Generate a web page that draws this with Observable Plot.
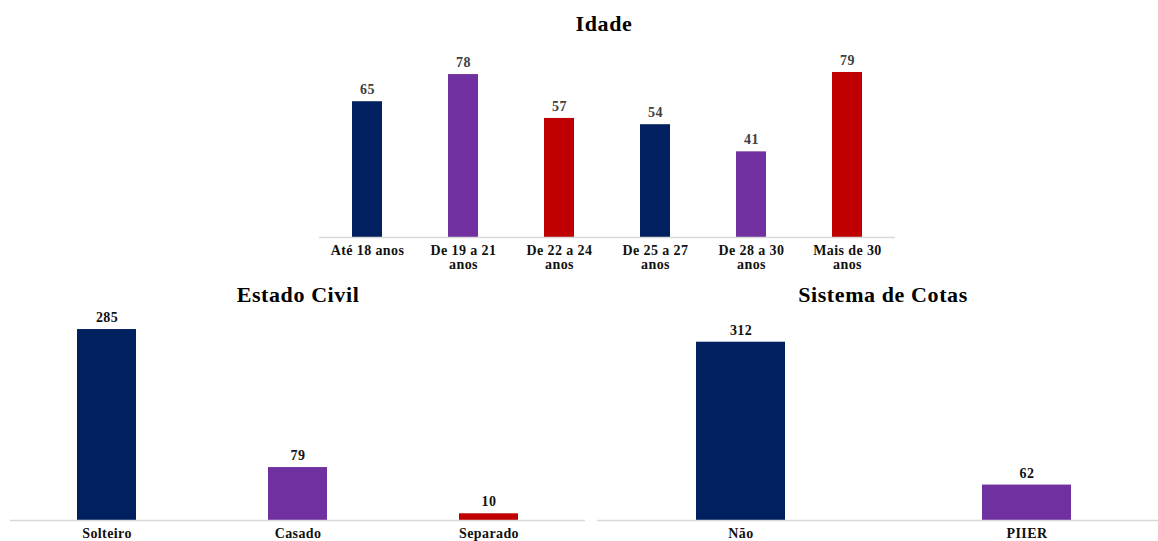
<!DOCTYPE html>
<html>
<head>
<meta charset="utf-8">
<script src="https://cdn.jsdelivr.net/npm/d3@7"></script>
<script src="https://cdn.jsdelivr.net/npm/@observablehq/plot@0.6"></script>
<style>
  html, body { margin: 0; padding: 0; background: #fff; overflow: hidden; }
  #page { position: relative; width: 1158px; height: 541px; font-family: "Liberation Serif", "Times New Roman", serif; }
  .title { position: absolute; font-weight: bold; font-size: 22px; line-height: 1; letter-spacing: 0.6px; color: #000; transform: translate(-50%, -50%); white-space: nowrap; }
  .chart { position: absolute; }
</style>
</head>
<body>
<div id="page"></div>
<script>
// Faixa etária
const idadeCategorias = ["Até 18 anos", "De 19 a 21 anos", "De 22 a 24 anos", "De 25 a 27 anos", "De 28 a 30 anos", "Mais de 30 anos"];
const idadeRotulos = ["Até 18 anos", "De 19 a 21\nanos", "De 22 a 24\nanos", "De 25 a 27\nanos", "De 28 a 30\nanos", "Mais de 30\nanos"];
const idadeValores = [65, 78, 57, 54, 41, 79];

// Estado civil
const estadoCategorias = ["Solteiro", "Casado", "Separado"];
const estadoValores = [285, 79, 10];

// Sistema de cotas
const cotasCategorias = ["Não", "PIIER"];
const cotasValores = [312, 62];

const paleta = ["#002060", "#7030A0", "#C00000"];

const page = document.getElementById("page");

function addTitle(text, cx, cy) {
  const el = document.createElement("div");
  el.className = "title";
  el.textContent = text;
  el.style.left = cx + "px";
  el.style.top = cy + "px";
  page.appendChild(el);
}

function addBars({categorias, rotulos, valores, yMax, left, top, width, height, margin, tickPadding, valueColor}) {
  const rows = categorias.map((c, i) => ({categoria: c, rotulo: rotulos[i], valor: valores[i], cor: paleta[i % paleta.length]}));
  const chart = Plot.plot({
    width, height,
    marginTop: margin[0], marginRight: margin[1], marginBottom: margin[2], marginLeft: margin[3],
    style: {
      fontFamily: "'Liberation Serif', 'Times New Roman', serif",
      fontSize: "14px",
      fontWeight: "bold",
      letterSpacing: "0.4px",
      color: "#111",
      background: "transparent",
      overflow: "visible"
    },
    x: {
      domain: categorias,
      paddingInner: 0.69,
      paddingOuter: 0.345,
      tickSize: 0,
      tickPadding,
      tickFormat: d => rows.find(r => r.categoria === d).rotulo,
      label: null
    },
    y: {domain: [0, yMax], axis: null},
    color: {type: "identity"},
    marks: [
      Plot.barY(rows, {x: "categoria", y: "valor", fill: "cor"}),
      Plot.ruleY([0], {stroke: "#d9d9d9", strokeWidth: 1.5}),
      Plot.text(rows, {x: "categoria", y: "valor", text: d => String(d.valor), dy: -12, fill: valueColor})
    ]
  });
  chart.classList.add("chart");
  chart.style.left = left + "px";
  chart.style.top = top + "px";
  page.appendChild(chart);
}

addTitle("Idade", 604, 24);
addBars({
  categorias: idadeCategorias, rotulos: idadeRotulos, valores: idadeValores, yMax: 90,
  left: 300, top: 40, width: 620, height: 240, margin: [9, 25, 43, 19], tickPadding: 8,
  valueColor: "#404040"
});

addTitle("Estado Civil", 298, 295);
addBars({
  categorias: estadoCategorias, rotulos: estadoCategorias, valores: estadoValores, yMax: 300,
  left: 0, top: 305, width: 595, height: 236, margin: [14, 10, 21, 10], tickPadding: 8,
  valueColor: "#111"
});

addTitle("Sistema de Cotas", 883, 295);
addBars({
  categorias: cotasCategorias, rotulos: cotasCategorias, valores: cotasValores, yMax: 350,
  left: 595, top: 305, width: 576, height: 236, margin: [15, 2, 21, 2], tickPadding: 8,
  valueColor: "#111"
});
</script>
</body>
</html>
